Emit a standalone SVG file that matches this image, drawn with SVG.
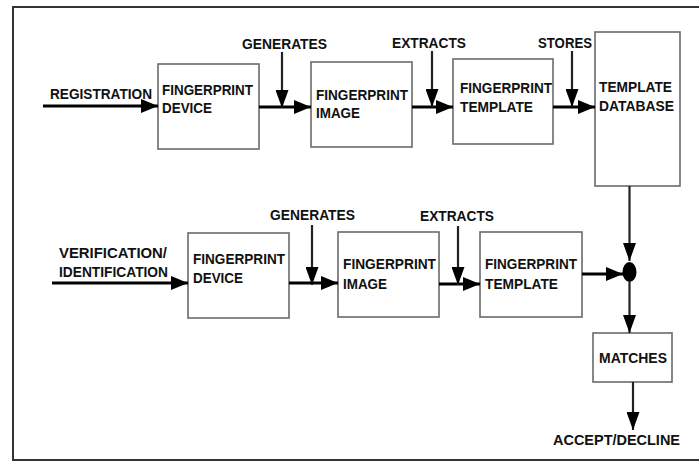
<svg xmlns="http://www.w3.org/2000/svg" width="699" height="462" viewBox="0 0 699 462">
<defs>
<style>
.box{fill:#fff;stroke:#6a6a6a;stroke-width:1.6}
.t{font-family:"Liberation Sans",Arial,sans-serif;font-weight:bold;font-size:15px;fill:#111}
.c{stroke:#000;stroke-width:3;fill:none}
.v{stroke:#222;stroke-width:2.2;fill:none}
</style>
<marker id="ah" viewBox="0 0 17 14" refX="17" refY="7" markerWidth="17" markerHeight="14" markerUnits="userSpaceOnUse" orient="auto">
<path d="M0,0 L17,7 L0,14 Z" fill="#000"/>
</marker>
<marker id="av" viewBox="0 0 18 13" refX="18" refY="6.5" markerWidth="18" markerHeight="13" markerUnits="userSpaceOnUse" orient="auto">
<path d="M0,0 L18,6.5 L0,13 Z" fill="#000"/>
</marker>
</defs>
<rect width="699" height="462" fill="#fff"/>
<path d="M720,7 L13,7 L13,460 L720,460" fill="none" stroke="#333" stroke-width="2"/>

<g id="n-device1"><rect class="box" x="158" y="64" width="101" height="85"/>
<text class="t" x="162" y="95" textLength="91" lengthAdjust="spacingAndGlyphs">FINGERPRINT</text>
<text class="t" x="162" y="113" textLength="50" lengthAdjust="spacingAndGlyphs">DEVICE</text></g>
<g id="n-image1"><rect class="box" x="311" y="62" width="101" height="85"/>
<text class="t" x="316" y="100" textLength="92" lengthAdjust="spacingAndGlyphs">FINGERPRINT</text>
<text class="t" x="316" y="118" textLength="44" lengthAdjust="spacingAndGlyphs">IMAGE</text></g>
<g id="n-template1"><rect class="box" x="453" y="59" width="100" height="85"/>
<text class="t" x="460" y="93" textLength="92" lengthAdjust="spacingAndGlyphs">FINGERPRINT</text>
<text class="t" x="460" y="112" textLength="73" lengthAdjust="spacingAndGlyphs">TEMPLATE</text></g>
<g id="n-database"><rect class="box" x="595" y="32" width="85" height="154"/>
<text class="t" x="599" y="92" textLength="73" lengthAdjust="spacingAndGlyphs">TEMPLATE</text>
<text class="t" x="599" y="111" textLength="75" lengthAdjust="spacingAndGlyphs">DATABASE</text></g>

<g id="n-device2"><rect class="box" x="188" y="233" width="101" height="85"/>
<text class="t" x="193" y="264" textLength="92" lengthAdjust="spacingAndGlyphs">FINGERPRINT</text>
<text class="t" x="193" y="283" textLength="50" lengthAdjust="spacingAndGlyphs">DEVICE</text></g>
<g id="n-image2"><rect class="box" x="338" y="232" width="101" height="85"/>
<text class="t" x="343" y="269" textLength="93" lengthAdjust="spacingAndGlyphs">FINGERPRINT</text>
<text class="t" x="343" y="289" textLength="44" lengthAdjust="spacingAndGlyphs">IMAGE</text></g>
<g id="n-template2"><rect class="box" x="480" y="232" width="102" height="85"/>
<text class="t" x="485" y="269" textLength="92" lengthAdjust="spacingAndGlyphs">FINGERPRINT</text>
<text class="t" x="485" y="289" textLength="73" lengthAdjust="spacingAndGlyphs">TEMPLATE</text></g>
<g id="n-join"><ellipse cx="629.5" cy="272" rx="7" ry="10" fill="#000"/></g>
<g id="n-matches"><rect class="box" x="593" y="333" width="79" height="49"/>
<text class="t" x="599" y="363" textLength="68" lengthAdjust="spacingAndGlyphs">MATCHES</text></g>

<g id="labels">
<text class="t" x="50" y="99" textLength="102" lengthAdjust="spacingAndGlyphs">REGISTRATION</text>
<text class="t" x="242" y="49" textLength="85" lengthAdjust="spacingAndGlyphs">GENERATES</text>
<text class="t" x="392" y="48" textLength="74" lengthAdjust="spacingAndGlyphs">EXTRACTS</text>
<text class="t" x="538" y="48" textLength="54" lengthAdjust="spacingAndGlyphs">STORES</text>
<text class="t" x="59" y="258" textLength="108" lengthAdjust="spacingAndGlyphs">VERIFICATION/</text>
<text class="t" x="59" y="277" textLength="109" lengthAdjust="spacingAndGlyphs">IDENTIFICATION</text>
<text class="t" x="270" y="220" textLength="85" lengthAdjust="spacingAndGlyphs">GENERATES</text>
<text class="t" x="420" y="221" textLength="74" lengthAdjust="spacingAndGlyphs">EXTRACTS</text>
<text class="t" x="553" y="445" textLength="127" lengthAdjust="spacingAndGlyphs">ACCEPT/DECLINE</text>
</g>

<g id="connectors">
<line class="c" x1="43" y1="106" x2="158" y2="106" marker-end="url(#ah)"/>
<line class="c" x1="259" y1="107" x2="311" y2="107" marker-end="url(#ah)"/>
<line class="v" x1="282" y1="52" x2="282" y2="108" marker-end="url(#av)"/>
<line class="c" x1="412" y1="107" x2="453" y2="107" marker-end="url(#ah)"/>
<line class="v" x1="432" y1="51" x2="432" y2="107" marker-end="url(#av)"/>
<line class="c" x1="553" y1="107" x2="595" y2="107" marker-end="url(#ah)"/>
<line class="v" x1="572" y1="51" x2="572" y2="107" marker-end="url(#av)"/>
<line class="v" x1="629.5" y1="186" x2="629.5" y2="261" marker-end="url(#av)"/>
<line class="c" x1="52" y1="283" x2="188" y2="283" marker-end="url(#ah)"/>
<line class="c" x1="289" y1="283" x2="338" y2="283" marker-end="url(#ah)"/>
<line class="v" x1="312" y1="225" x2="312" y2="285" marker-end="url(#av)"/>
<line class="c" x1="439" y1="284" x2="480" y2="284" marker-end="url(#ah)"/>
<line class="v" x1="458" y1="226" x2="458" y2="285" marker-end="url(#av)"/>
<line class="c" x1="582" y1="274" x2="623" y2="274" marker-end="url(#ah)"/>
<line class="v" x1="629.5" y1="282" x2="629.5" y2="333" marker-end="url(#av)"/>
<line class="v" x1="633" y1="382" x2="633" y2="430" marker-end="url(#av)"/>
</g>
</svg>
